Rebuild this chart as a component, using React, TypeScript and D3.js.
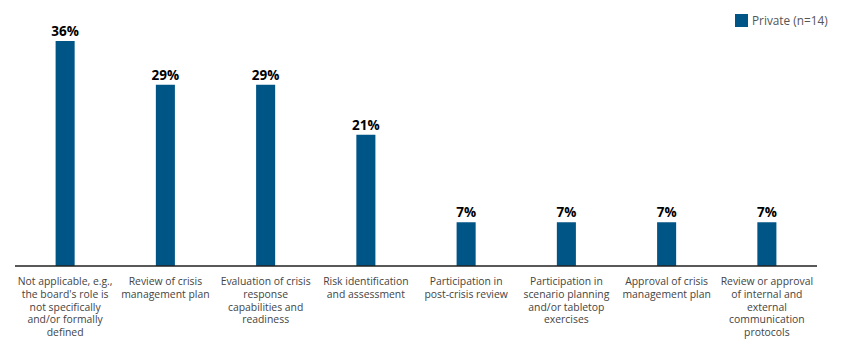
import React from 'react';
import * as d3 from 'd3';

const categories = [
    ['Not applicable, e.g.,', "the board's role is", 'not specifically', 'and/or formally', 'defined'],
    ['Review of crisis', 'management plan'],
    ['Evaluation of crisis', 'response', 'capabilities and', 'readiness'],
    ['Risk identification', 'and assessment'],
    ['Participation in', 'post-crisis review'],
    ['Participation in', 'scenario planning', 'and/or tabletop', 'exercises'],
    ['Approval of crisis', 'management plan'],
    ['Review or approval', 'of internal and', 'external', 'communication', 'protocols']
];
const privateValues = [36, 29, 29, 21, 7, 7, 7, 7];
const seriesName = 'Private (n=14)';

const width = 846;
const height = 358;
const margin = { left: 15, right: 29, top: 41, bottom: 92 };
const barColor = '#005587';
const font = "'Open Sans', sans-serif";

export default function App() {
    const x = d3
        .scaleBand<number>()
        .domain(d3.range(categories.length))
        .range([margin.left, width - margin.right])
        .paddingInner(0.81)
        .paddingOuter(0.405);

    const y = d3
        .scaleLinear()
        .domain([0, 36])
        .range([height - margin.bottom, margin.top]);

    const baseline = y(0);

    return (
        <svg
            width={width}
            height={height}
            style={{ position: 'absolute', left: 0, top: 0 }}
            fontFamily={font}
        >
            {privateValues.map((v, i) => (
                <g key={i}>
                    <rect
                        x={x(i)}
                        y={y(v)}
                        width={x.bandwidth()}
                        height={baseline - y(v)}
                        fill={barColor}
                    />
                    <text
                        x={(x(i) as number) + x.bandwidth() / 2}
                        y={y(v) - 5}
                        textAnchor="middle"
                        fontSize={13.5}
                        fontWeight="bold"
                        fill="#000"
                    >
                        {v}%
                    </text>
                </g>
            ))}

            <line
                x1={margin.left}
                x2={width - margin.right}
                y1={baseline}
                y2={baseline}
                stroke="#222"
                strokeWidth={1.5}
            />

            {categories.map((lines, i) => (
                <text
                    key={i}
                    x={(x(i) as number) + x.bandwidth() / 2}
                    y={baseline + 19}
                    textAnchor="middle"
                    fontSize={10.4}
                    fill="#444"
                >
                    {lines.map((l, j) => (
                        <tspan key={j} x={(x(i) as number) + x.bandwidth() / 2} dy={j === 0 ? 0 : 12.8}>
                            {l}
                        </tspan>
                    ))}
                </text>
            ))}

            <rect x={735} y={14} width={13} height={13} fill={barColor} />
            <text x={752} y={25} fontSize={11.8} fill="#555">
                {seriesName}
            </text>
        </svg>
    );
}
